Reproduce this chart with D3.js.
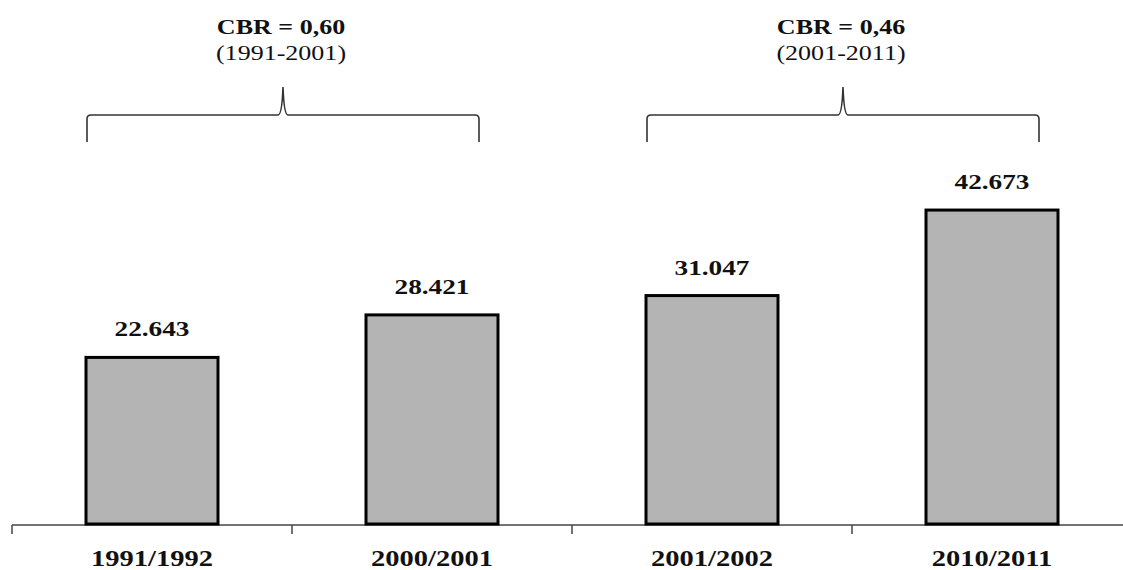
<!DOCTYPE html>
<html><head><meta charset="utf-8">
<script src="https://cdn.jsdelivr.net/npm/d3@7"></script>
<style>body{margin:0;background:#fff}svg{display:block}</style>
</head><body>
<svg id="c" width="1123" height="570"></svg>
<script>
const categories = ["1991/1992", "2000/2001", "2001/2002", "2010/2011"];
const values = [22643, 28421, 31047, 42673];
const valueLabels = ["22.643", "28.421", "31.047", "42.673"];
const groupTitles = ["CBR = 0,60", "CBR = 0,46"];
const groupPeriods = ["(1991-2001)", "(2001-2011)"];
const groupMembers = [[0, 1], [2, 3]];

const svg = d3.select("#c");
const font = "'Liberation Serif','Times New Roman',serif";
const sx = 1.24;

const x = d3.scaleBand().domain(categories).range([12, 1132]).paddingInner(0.5286).paddingOuter(0.2643);
const y = d3.scaleLinear().domain([0, 70000]).range([524, 9]);
const bw = x.bandwidth();

function stretchedText(g, tx, ty, txt, size, weight) {
  g.append("g").attr("transform", `translate(${tx},${ty}) scale(${sx},1)`)
    .append("text").attr("text-anchor", "middle").attr("font-family", font)
    .attr("font-size", size).attr("font-weight", weight).attr("fill", "#111").text(txt);
}

// axis
const axis = d3.axisBottom(x).tickSize(0).tickFormat("");
const ag = svg.append("g").attr("transform", `translate(0,${y(0) + 1})`).call(axis);
ag.select(".domain").remove();
ag.append("line").attr("x1", 12).attr("x2", 1123).attr("y1", 0).attr("y2", 0)
  .attr("stroke", "#444").attr("stroke-width", 1.5);
const bounds = categories.map((c, i) => x.range()[0] + i * x.step());
ag.selectAll("line.tk").data(bounds).enter().append("line").attr("class", "tk")
  .attr("x1", d => d).attr("x2", d => d).attr("y1", 0).attr("y2", 9)
  .attr("stroke", "#444").attr("stroke-width", 1.5);

// bars
svg.selectAll("rect.bar").data(values).enter().append("rect").attr("class", "bar")
  .attr("x", (d, i) => x(categories[i]))
  .attr("y", d => y(d))
  .attr("width", bw)
  .attr("height", d => y(0) - y(d))
  .attr("fill", "#b4b4b4").attr("stroke", "#000").attr("stroke-width", 3);

// value and category labels
values.forEach((v, i) => {
  stretchedText(svg, x(categories[i]) + bw / 2, y(v) - 21, valueLabels[i], 22, "bold");
  stretchedText(svg, x(categories[i]) + bw / 2, 566, categories[i], 23, "bold");
});

// braces
groupMembers.forEach((m, gi) => {
  const x0 = x(categories[m[0]]) + 1;
  const x1 = x(categories[m[1]]) + bw - 19;
  const xc = (x0 + x1) / 2;
  const yh = 115, yb = 142, yp = 87;
  const p = `M${x0},${yb} L${x0},${yh + 4} Q${x0},${yh} ${x0 + 4},${yh} L${xc - 5},${yh} Q${xc - 1},${yh} ${xc},${yp} Q${xc + 1},${yh} ${xc + 5},${yh} L${x1 - 4},${yh} Q${x1},${yh} ${x1},${yh + 4} L${x1},${yb}`;
  svg.append("path").attr("d", p).attr("fill", "none").attr("stroke", "#333").attr("stroke-width", 1.6);
  stretchedText(svg, xc - 2, 34, groupTitles[gi], 21, "bold");
  stretchedText(svg, xc - 2, 60, groupPeriods[gi], 21, "normal");
});
</script>
</body></html>
